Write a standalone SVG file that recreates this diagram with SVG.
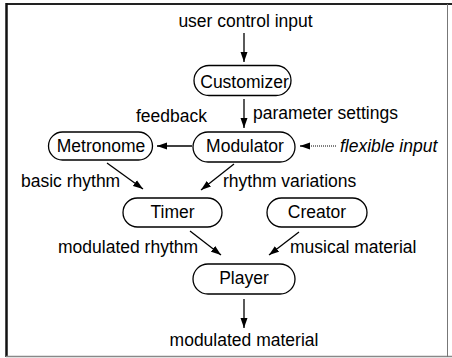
<svg xmlns="http://www.w3.org/2000/svg" width="452" height="358" viewBox="0 0 452 358">
<style>
text{font-family:"Liberation Sans",Arial,sans-serif;font-size:17.5px;fill:#000}
.c{text-anchor:middle}
.it{font-style:italic}
.box{fill:#fff;stroke:#000;stroke-width:1.3}
.ln{stroke:#000;stroke-width:1.3;fill:none}
.dot{stroke:#000;stroke-width:1;stroke-dasharray:1,1;fill:none}
</style>
<defs>
<marker id="ah" markerUnits="userSpaceOnUse" markerWidth="10" markerHeight="8" refX="10" refY="4" orient="auto">
<path d="M0,0.5 L10,4 L0,7.5 z" fill="#000"/>
</marker>
</defs>
<rect x="0" y="0" width="452" height="358" fill="#fff"/>
<g id="frame">
<line x1="6.5" y1="4" x2="452" y2="4" stroke="#222" stroke-width="2"/>
<line x1="6.5" y1="3" x2="6.5" y2="357" stroke="#111" stroke-width="2.5"/>
<line x1="6" y1="356.5" x2="452" y2="356.5" stroke="#888" stroke-width="1.5"/>
<line x1="447.5" y1="4" x2="447.5" y2="357" stroke="#777" stroke-width="1"/>
</g>
<g id="connectors">
<line class="ln" x1="244" y1="33" x2="244" y2="62" marker-end="url(#ah)"/>
<line class="ln" x1="244" y1="99" x2="244" y2="128" marker-end="url(#ah)"/>
<line class="ln" x1="192" y1="146" x2="157" y2="146" marker-end="url(#ah)"/>
<line class="dot" x1="336" y1="146" x2="303" y2="146"/>
<line class="ln" x1="305" y1="146" x2="300" y2="146" marker-end="url(#ah)"/>
<line class="ln" x1="107" y1="163" x2="143" y2="189" marker-end="url(#ah)"/>
<line class="ln" x1="234" y1="164" x2="201" y2="190" marker-end="url(#ah)"/>
<line class="ln" x1="190" y1="231" x2="221" y2="255" marker-end="url(#ah)"/>
<line class="ln" x1="299" y1="232" x2="269" y2="255" marker-end="url(#ah)"/>
<line class="ln" x1="244" y1="299" x2="244" y2="328" marker-end="url(#ah)"/>
<text x="245.5" y="27" class="c">user control input</text>
<text x="253" y="119">parameter settings</text>
<text x="136" y="122">feedback</text>
<text x="340" y="152" class="it">flexible input</text>
<text x="21" y="187">basic rhythm</text>
<text x="223" y="187">rhythm variations</text>
<text x="58" y="253">modulated rhythm</text>
<text x="290" y="253">musical material</text>
<text x="244" y="346" class="c">modulated material</text>
</g>
<g id="customizer">
<rect class="box" x="194" y="65.5" width="97" height="30" rx="15"/>
<text x="244.5" y="88" class="c">Customizer</text>
</g>
<g id="modulator">
<rect class="box" x="193" y="132" width="102" height="30" rx="15"/>
<text x="245" y="152" class="c">Modulator</text>
</g>
<g id="metronome">
<rect class="box" x="48.5" y="132" width="104" height="28" rx="14"/>
<text x="101" y="152" class="c">Metronome</text>
</g>
<g id="timer">
<rect class="box" x="123" y="198" width="99" height="29" rx="14.5"/>
<text x="172.5" y="218" class="c">Timer</text>
</g>
<g id="creator">
<rect class="box" x="267" y="198" width="100" height="29" rx="14.5"/>
<text x="317" y="218" class="c">Creator</text>
</g>
<g id="player">
<rect class="box" x="193" y="264" width="102" height="30" rx="15"/>
<text x="244" y="284" class="c">Player</text>
</g>
</svg>
